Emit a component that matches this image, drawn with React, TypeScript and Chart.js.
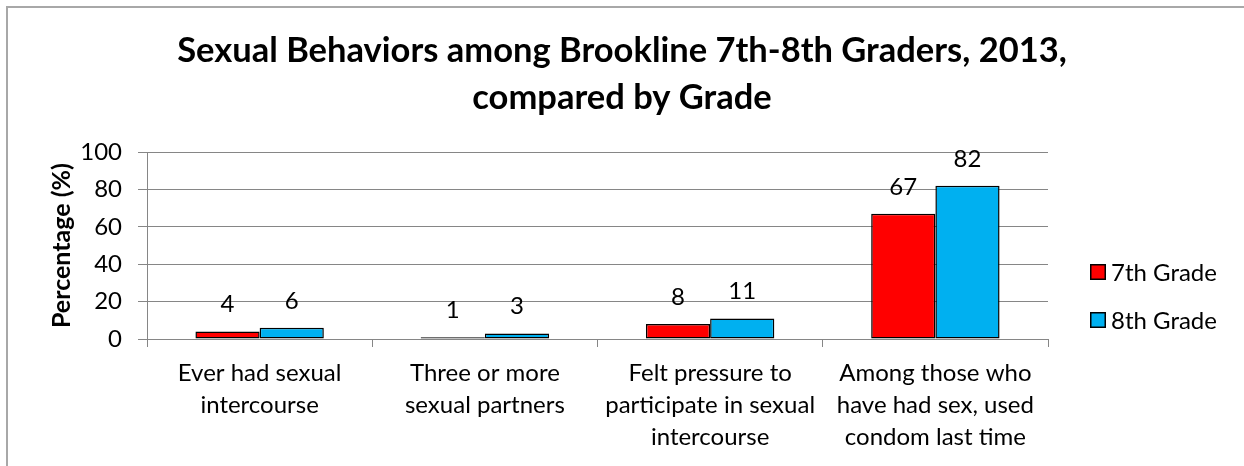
import React, { useEffect, useRef } from 'react';
import { Chart, registerables } from 'chart.js';

Chart.register(...registerables);

const categories: string[][] = [
  ['Ever had sexual', 'intercourse'],
  ['Three or more', 'sexual partners'],
  ['Felt pressure to', 'participate in sexual', 'intercourse'],
  ['Among those who', 'have had sex, used', 'condom last time'],
];
const seriesNames = ['7th Grade', '8th Grade'];
const grade7 = [4, 1, 8, 67];
const grade8 = [6, 3, 11, 82];
const yTickValues = [0, 20, 40, 60, 80, 100];
const titleLines = ['Sexual Behaviors among Brookline 7th-8th Graders, 2013,', 'compared by Grade'];
const yTitle = 'Percentage (%)';
const seriesColors = ['#FF0000', '#00B0F0'];

const FONT = 'Lato, "Open Sans", sans-serif';

const dataLabelPlugin = {
  id: 'dataLabels',
  afterDatasetsDraw(chart: any) {
    const ctx = chart.ctx;
    ctx.save();
    ctx.font = `24px ${FONT}`;
    ctx.fillStyle = '#000';
    ctx.textAlign = 'center';
    ctx.textBaseline = 'middle';
    chart.data.datasets.forEach((ds: any, i: number) => {
      const meta = chart.getDatasetMeta(i);
      meta.data.forEach((bar: any, j: number) => {
        ctx.fillText(String(ds.data[j]), bar.x, bar.y - 27);
      });
    });
    ctx.restore();
  },
};

const legendPlugin = {
  id: 'customLegend',
  afterDraw(chart: any) {
    const ctx = chart.ctx;
    ctx.save();
    ctx.font = `24px ${FONT}`;
    ctx.textAlign = 'left';
    ctx.textBaseline = 'middle';
    const boxX = 1090;
    const startY = 272;
    const gap = 48;
    chart.data.datasets.forEach((ds: any, i: number) => {
      const cy = startY + i * gap;
      ctx.fillStyle = ds.backgroundColor;
      ctx.fillRect(boxX, cy - 8, 16, 16);
      ctx.strokeStyle = '#000';
      ctx.lineWidth = 1.5;
      ctx.strokeRect(boxX + 0.75, cy - 7.25, 14.5, 14.5);
      ctx.fillStyle = '#000';
      ctx.fillText(ds.label, 1111, cy + 1);
    });
    ctx.restore();
  },
};

export default function App() {
  const canvasRef = useRef<HTMLCanvasElement | null>(null);

  useEffect(() => {
    if (!canvasRef.current) return;
    const chart = new Chart(canvasRef.current, {
      type: 'bar',
      data: {
        labels: categories,
        datasets: [
          {
            label: seriesNames[0],
            data: grade7,
            backgroundColor: seriesColors[0],
            borderColor: '#000',
            borderWidth: 1.5,
            borderSkipped: false,
          },
          {
            label: seriesNames[1],
            data: grade8,
            backgroundColor: seriesColors[1],
            borderColor: '#000',
            borderWidth: 1.5,
            borderSkipped: false,
          },
        ],
      },
      options: {
        responsive: false,
        animation: false,
        devicePixelRatio: 1,
        layout: { padding: { left: 0, right: 0, top: 0, bottom: 0 } },
        datasets: {
          bar: { barPercentage: 1, categoryPercentage: 0.57 },
        },
        plugins: {
          legend: { display: false },
          tooltip: { enabled: false },
          title: {
            display: true,
            text: titleLines,
            color: '#000',
            font: { family: FONT, size: 34.5, weight: 'bold', lineHeight: 1.35 },
            padding: { top: 28, bottom: 31 },
          },
        },
        scales: {
          x: {
            grid: {
              display: true,
              offset: true,
              drawOnChartArea: false,
              drawTicks: true,
              tickLength: 8,
              color: '#868686',
            },
            border: { display: true, color: '#868686', width: 1 },
            ticks: {
              color: '#000',
              font: { family: FONT, size: 24, lineHeight: 1.33 },
              padding: 10,
              maxRotation: 0,
              autoSkip: false,
            },
            afterFit(scale: any) {
              scale.height = 127;
            },
          },
          y: {
            min: 0,
            max: 100,
            afterBuildTicks(scale: any) {
              scale.ticks = yTickValues.map((v) => ({ value: v }));
            },
            grid: {
              color: '#868686',
              lineWidth: 1,
              tickLength: 9,
            },
            border: { display: true, color: '#868686', width: 1 },
            ticks: {
              color: '#000',
              font: { family: FONT, size: 24 },
              padding: 16,
            },
            title: {
              display: true,
              text: yTitle,
              color: '#000',
              font: { family: FONT, size: 25, weight: 'bold', lineHeight: 1.2 },
              padding: { top: 47, bottom: 0 },
            },
            afterFit(scale: any) {
              scale.width = 147;
            },
          },
          legendSpace: {
            type: 'linear',
            position: 'right',
            display: true,
            grid: { display: false, drawTicks: false },
            border: { display: false },
            ticks: { display: false },
            afterFit(scale: any) {
              scale.width = 196;
            },
          },
        },
      },
      plugins: [dataLabelPlugin, legendPlugin],
    } as any);
    return () => chart.destroy();
  }, []);

  return (
    <div style={{ position: 'absolute', left: 0, top: 0, width: 1244, height: 466, background: '#fff', overflow: 'hidden' }}>
      <div
        style={{
          position: 'absolute',
          left: 6,
          top: 6,
          width: 1300,
          height: 500,
          borderTop: '2px solid #a8a8a8',
          borderLeft: '2px solid #a8a8a8',
        }}
      />
      <canvas ref={canvasRef} width={1244} height={466} style={{ position: 'absolute', left: 0, top: 0 }} />
    </div>
  );
}
